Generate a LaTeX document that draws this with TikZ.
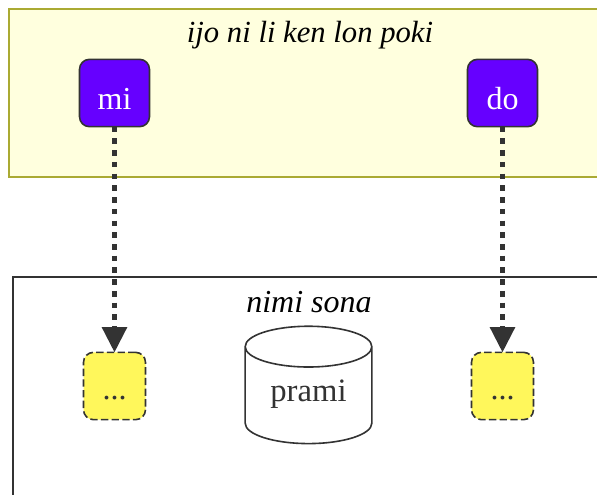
\documentclass[tikz,border=0pt]{standalone}
\usepackage{fontspec}
\setmainfont{Liberation Serif}
\usetikzlibrary{shapes.geometric,arrows.meta}
\definecolor{clusterfill}{HTML}{FFFFDE}
\definecolor{clusterline}{HTML}{AAAA33}
\definecolor{darkline}{HTML}{333333}
\definecolor{nodeviolet}{HTML}{6600FF}
\definecolor{nodeyellow}{HTML}{FFF75B}
\begin{document}
\begin{tikzpicture}[
        x=0.75pt, y=-0.75pt,
        cluster/.style={rectangle, draw, line width=1.2pt, inner sep=0pt, outer sep=0pt, anchor=north west},
        cluster_label/.style={font=\fontsize{23}{27}\selectfont\itshape, text=black},
        lowtext/.style={text height=24.5pt, text depth=0pt, inner sep=0pt, outer sep=0pt},
        person/.style={rectangle, lowtext, draw=darkline, line width=1.2pt, fill=nodeviolet, rounded corners=7.5pt, minimum width=52.5pt, minimum height=50.5pt, text=white, font=\fontsize{24}{28}\selectfont},
        stub/.style={rectangle, lowtext, text height=20.5pt, draw=darkline, line width=1.2pt, dash pattern=on 5.5pt off 2.5pt, fill=nodeyellow, rounded corners=7.5pt, minimum width=46.5pt, minimum height=50.5pt, text=darkline, font=\fontsize{24}{28}\selectfont},
        store/.style={cylinder, shape border rotate=90, aspect=0.535, lowtext, text height=9.5pt, draw=darkline, line width=1.2pt, fill=white, minimum width=95pt, minimum height=88pt, text=darkline, font=\fontsize{24.5}{28}\selectfont},
        link/.style={draw=darkline, line width=3.1pt, dash pattern=on 4.2pt off 4.6pt, -{Triangle[length=19pt, width=18.5pt, fill=darkline]}}
    ]
        \useasboundingbox (0,0) rectangle (597,494);
        \clip (0,0) rectangle (597,494);

        % Clusters, running off the page
        \node[cluster, draw=clusterline, fill=clusterfill, minimum width=500pt, minimum height=126pt] (top_cluster) at (9,9) {};
        \node[cluster, draw=darkline, fill=white, minimum width=500pt, minimum height=200pt] (bottom_cluster) at (13,277) {};

        % Cluster labels
        \node[cluster_label] (top_label) at (310,35) {ijo ni li ken lon poki};
        \node[cluster_label, font=\fontsize{24}{28}\selectfont\itshape] (bottom_label) at (309,302) {nimi sona};

        % Upper nodes
        \node[person] (mi) at (114.5,93) {mi};
        \node[person] (do) at (502.5,93) {do};

        % Lower nodes
        \node[stub] (left_stub) at (114.5,386) {...};
        \node[stub] (right_stub) at (502.5,386) {...};
        \node[store] (prami) at (308.5,395.5) {prami};

        % Connections
        \draw[link] (mi) -- (left_stub);
        \draw[link] (do) -- (right_stub);
    \end{tikzpicture}
\end{document}
